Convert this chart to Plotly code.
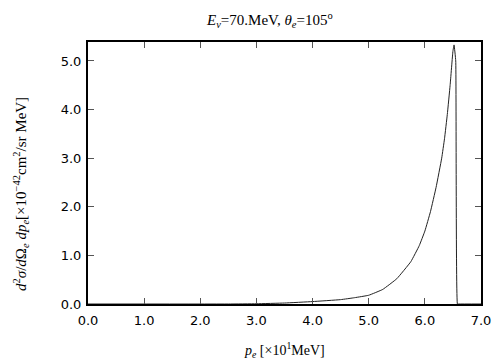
import plotly.graph_objects as go

pe = [0.0, 2.5, 3.0, 3.5, 4.0, 4.5, 4.75, 5.0, 5.25, 5.5, 5.75, 5.9, 6.0, 6.1, 6.2, 6.3, 6.35, 6.4, 6.45, 6.5, 6.52, 6.55, 6.58, 6.6, 7.0]
xsec = [0.0, 0.0, 0.005, 0.02, 0.05, 0.09, 0.13, 0.18, 0.30, 0.52, 0.87, 1.2, 1.5, 1.9, 2.4, 3.0, 3.4, 3.9, 4.5, 5.2, 5.33, 5.0, 0.0, 0.0, 0.0]

xticks = [0, 1, 2, 3, 4, 5, 6, 7]
xticklabels = ["0.0", "1.0", "2.0", "3.0", "4.0", "5.0", "6.0", "7.0"]
yticks = [0, 1, 2, 3, 4, 5]
yticklabels = ["0.0", "1.0", "2.0", "3.0", "4.0", "5.0"]

fig = go.Figure()
fig.add_trace(go.Scatter(x=pe, y=xsec, mode="lines",
                         line=dict(color="#222222", width=1, shape="spline", smoothing=0.3),
                         showlegend=False))

serif = "Liberation Serif, Times New Roman, serif"
sans = "DejaVu Sans, Liberation Sans, Arial, sans-serif"

axis_common = dict(showgrid=False, zeroline=False, showline=True, linecolor="black",
                   linewidth=2, mirror="ticks", ticks="inside", ticklen=6,
                   tickcolor="#555555", tickwidth=1,
                   tickfont=dict(family=sans, size=13, color="black"))

fig.update_layout(
    width=504, height=360,
    margin=dict(l=88, r=23, t=42, b=56),
    paper_bgcolor="white", plot_bgcolor="white",
    xaxis=dict(range=[0, 7], tickvals=xticks, ticktext=xticklabels, ticklabelstandoff=3, **axis_common),
    yaxis=dict(range=[0, 5.39], tickvals=yticks, ticktext=yticklabels, ticklabelstandoff=2, **axis_common),
    annotations=[
        dict(text="<i>E</i><sub><i>ν</i></sub>=70.MeV, <i>θ</i><sub><i>e</i></sub>=105<sup>o</sup>",
             xref="paper", yref="paper", x=0.5, y=1, yshift=22, xshift=-15, showarrow=False,
             xanchor="center", yanchor="middle", font=dict(family=serif, size=15, color="black")),
        dict(text="<i>p</i><sub><i>e</i></sub> [×10<sup>1</sup>MeV]",
             xref="paper", yref="paper", x=0.5, y=0, yshift=-46, showarrow=False,
             xanchor="center", yanchor="middle", font=dict(family=serif, size=14, color="black")),
        dict(text="<i>d</i><sup>2</sup><i>σ</i>/<i>d</i>Ω<sub><i>e</i></sub> <i>dp</i><sub><i>e</i></sub>[×10<sup>−42</sup>cm<sup>2</sup>/sr MeV]",
             xref="paper", yref="paper", x=0, y=0.5, xshift=-67, yshift=-21, textangle=-90, showarrow=False,
             xanchor="center", yanchor="middle", font=dict(family=serif, size=15, color="black")),
    ],
)

fig.write_html("out.html", config={"displayModeBar": False},
               post_script="document.body.style.margin='0';document.body.style.padding='0';")
